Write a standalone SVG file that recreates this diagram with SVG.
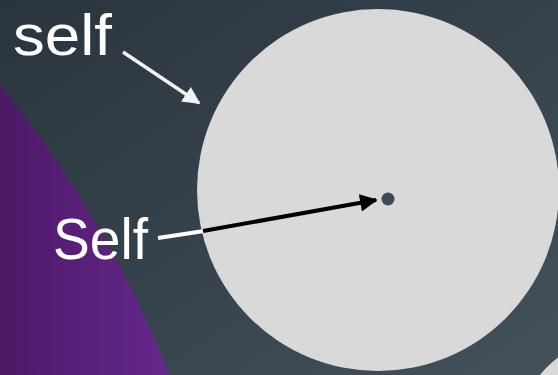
<svg xmlns="http://www.w3.org/2000/svg" width="558" height="375" viewBox="0 0 558 375">
<defs>
<linearGradient id="bg" x1="0" y1="0" x2="1" y2="1">
<stop offset="0" stop-color="#29343d"/>
<stop offset="1" stop-color="#44515a"/>
</linearGradient>
<linearGradient id="pur" x1="0" y1="0" x2="1" y2="0" gradientUnits="userSpaceOnUse" gradientTransform="scale(170,1)">
<stop offset="0" stop-color="#4d1866"/>
<stop offset="1" stop-color="#65288e"/>
</linearGradient>
<marker id="hw" viewBox="0 0 10 10" refX="9" refY="5" markerWidth="5" markerHeight="5" orient="auto" markerUnits="strokeWidth">
<path d="M0,0 L10,5 L0,10 z" fill="#f2f2f2"/>
</marker>
<marker id="hb" viewBox="0 0 10 10" refX="9" refY="5" markerWidth="4.6" markerHeight="4.4" orient="auto" markerUnits="strokeWidth">
<path d="M0,0 L10,5 L0,10 z" fill="#000"/>
</marker>
<style>
.lbl{font-family:"Liberation Sans",Arial,sans-serif;font-size:58px;fill:#ffffff}
</style>
</defs>
<rect width="558" height="375" fill="url(#bg)"/>
<circle cx="-849" cy="777" r="1095" fill="url(#pur)"/>
<circle cx="622" cy="442" r="106" fill="#d9d9d9"/>
<g id="circle-node">
<circle cx="378" cy="190" r="181" fill="#d9d9d9"/>
<circle cx="388" cy="199" r="6.5" fill="#3d4a54"/>
</g>
<g id="label-self-lower">
<text class="lbl" x="13" y="55" textLength="99" lengthAdjust="spacingAndGlyphs">self</text>
</g>
<g id="label-Self-upper">
<text class="lbl" x="53" y="259" textLength="95" lengthAdjust="spacingAndGlyphs">Self</text>
</g>
<g id="connectors">
<line x1="123" y1="52" x2="199" y2="103" stroke="#f2f2f2" stroke-width="3.5" marker-end="url(#hw)"/>
<line x1="158" y1="238" x2="204" y2="231" stroke="#ffffff" stroke-width="4"/>
<line x1="203" y1="231" x2="376" y2="200" stroke="#000000" stroke-width="4" marker-end="url(#hb)"/>
</g>
</svg>
